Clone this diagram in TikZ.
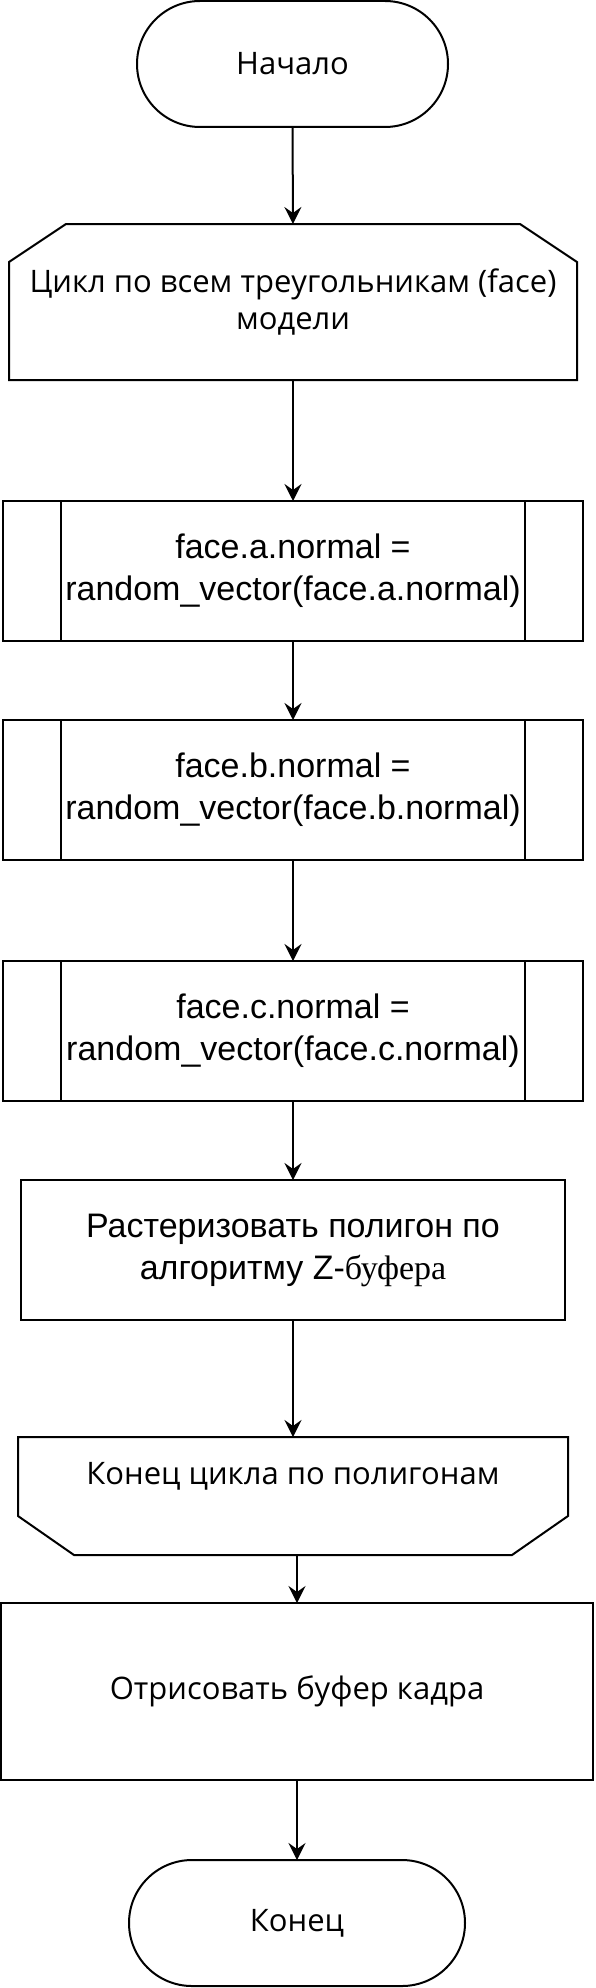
\documentclass[tikz,border=0pt]{standalone}
\usepackage{fontspec}
\setmainfont{Open Sans}
\newfontfamily\arialf{Liberation Sans}
\newfontfamily\timesf{Liberation Serif}
\usetikzlibrary{shapes.misc,arrows.meta}
\tikzset{
  box/.style={draw, line width=2pt, inner sep=0pt, outer sep=0pt, align=center},
  osans/.style={font=\fontsize{31pt}{37pt}\selectfont},
  asans/.style={font=\arialf\fontsize{34pt}{42pt}\selectfont},
  term/.style={box, osans, rounded rectangle, minimum height=126pt},
  procbox/.style={box, rectangle, minimum height=140pt},
  frame/.style={rectangle, inner sep=0pt, outer sep=0pt},
  outline/.style={line width=2pt},
  arr/.style={line width=2pt, -{Stealth[length=17pt,width=17pt,inset=6pt]}},
  inner/.style={line width=2pt}
}
\begin{document}
\begin{tikzpicture}[x=1pt,y=-1pt]
\useasboundingbox (0,0) rectangle (596,1988);
\fill[white] (0,0) rectangle (596,1988);

\node[term, minimum width=311pt] (start) at (292.5,64) {Начало};

\node[frame, minimum width=568pt, minimum height=156pt] (loop) at (293,302) {};
\draw[outline] (loop.south west) -- ([yshift=-38pt]loop.north west) -- ([xshift=57pt]loop.north west)
   -- ([xshift=-57pt]loop.north east) -- ([yshift=-38pt]loop.north east) -- (loop.south east) -- cycle;
\node[osans, align=center, inner sep=0pt] (looptxt) at (loop.center) {Цикл по всем треугольникам (face)\\модели};

\node[procbox, asans, minimum width=580pt] (p1) at (293,571) {face.a.normal =\\random\_vector(face.a.normal)};
\node[procbox, asans, minimum width=580pt] (p2) at (293,790) {face.b.normal =\\random\_vector(face.b.normal)};
\node[procbox, asans, minimum width=580pt] (p3) at (293,1031) {face.c.normal =\\random\_vector(face.c.normal)};
\foreach \n in {p1,p2,p3}{
  \draw[inner] ([xshift=58pt]\n.north west) -- ([xshift=58pt]\n.south west);
  \draw[inner] ([xshift=-58pt]\n.north east) -- ([xshift=-58pt]\n.south east);
}

\node[procbox, asans, minimum width=544pt] (rast) at (293,1250) {Растеризовать полигон по\\алгоритму Z-{\timesf буфера}};

\node[frame, minimum width=550pt, minimum height=118pt] (lend) at (293,1496) {};
\draw[outline] (lend.north west) -- ([yshift=39pt]lend.south west) -- ([xshift=56pt]lend.south west)
   -- ([xshift=-56pt]lend.south east) -- ([yshift=39pt]lend.south east) -- (lend.north east) -- cycle;
\node[osans, inner sep=0pt] (lendtxt) at ([yshift=20pt]lend.center) {Конец цикла по полигонам};

\node[box, osans, minimum width=592pt, minimum height=177pt] (draw) at (297,1691.5) {Отрисовать буфер кадра};

\node[term, minimum width=336pt] (end) at (297,1923) {Конец};

\draw[arr] (start.south) -- (loop.north);
\draw[arr] (loop.south) -- (p1.north);
\draw[arr] (p1.south) -- (p2.north);
\draw[arr] (p2.south) -- (p3.north);
\draw[arr] (p3.south) -- (rast.north);
\draw[arr] (rast.south) -- (lend.north);
\draw[arr] (draw.north |- lend.south) -- (draw.north);
\draw[arr] (draw.south) -- (end.north);
\end{tikzpicture}
\end{document}
